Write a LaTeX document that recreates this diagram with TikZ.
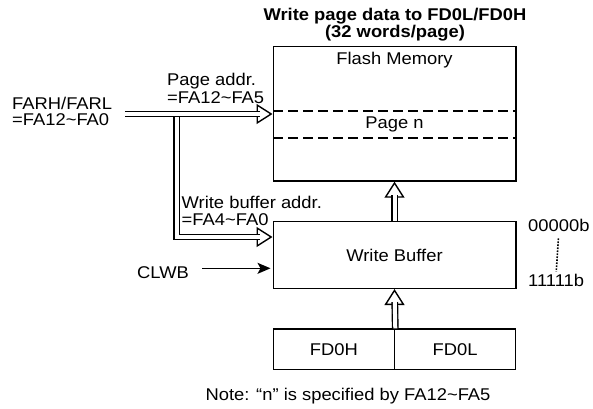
\documentclass[tikz,border=0pt]{standalone}
\usepackage{fontspec}
\setmainfont[FakeStretch=1.08]{Liberation Sans}
\usetikzlibrary{arrows.meta}

\begin{document}
\begin{tikzpicture}[x=1pt,y=1pt,
  txt/.style={inner sep=0pt,align=left,font=\fontsize{17}{17.5}\selectfont},
  box/.style={txt,align=center,draw,line width=1.5pt,minimum width=242.5pt},
  cut/.style={line width=1.5pt,dash pattern=on 10pt off 5pt},
  bus/.style={double,line width=1.4pt,double distance=4pt,shorten >=13pt},
  bushead/.style={line width=1.4pt,-{Triangle[open,length=16pt,width=20pt,fill=white]}}]
\useasboundingbox (0,0) rectangle (593,-408);
\node[txt,align=center,font=\bfseries\fontsize{17}{17.5}\selectfont] (title) at (395,-24.5) {Write page data to FD0L/FD0H\\(32 words/page)};
\node[box,minimum height=134.3pt] (flash) at (394.5,-113.8) {};
\node[txt] (flashname) at (394.5,-60) {Flash Memory};
\node[txt,minimum width=242.5pt,minimum height=26.7pt] (page) at (394.5,-124.3) {Page n};
\draw[cut] (page.north west) -- (page.north east);
\draw[cut] (page.south west) -- (page.south east);
\node[box,minimum height=66.6pt] (wbuf) at (394.5,-255) {Write Buffer};
\node[box,minimum width=121.25pt,minimum height=40.3pt] (fdh) at (333.9,-349.2) {FD0H};
\node[box,minimum width=121.25pt,minimum height=40.3pt] (fdl) at (455.1,-349.2) {FD0L};
\node[txt] (note) at (348,-396) {Note: “n” is specified by FA12\textasciitilde FA5};
% address inputs
\node[txt,anchor=north west,font=\fontsize{17}{16}\selectfont] (far) at (12,-96.7) {FARH/FARL\\=FA12\textasciitilde FA0};
\node[txt,anchor=north west] (pageaddr) at (167,-73.3) {Page addr.\\=FA12\textasciitilde FA5};
\node[txt,anchor=north west] (bufaddr) at (181.5,-195.5) {Write buffer addr.\\=FA4\textasciitilde FA0};
\coordinate (busin) at (125,-114);
\coordinate (fork) at (176.5,-114);
\coordinate (pagein) at (flash.west |- busin);
\coordinate (bufin) at ([yshift=18pt]wbuf.west);
\draw[bushead] ([xshift=-16pt]bufin) -- (bufin);
\draw[bus] (fork) |- (bufin);
\draw[bushead] ([xshift=-16pt]pagein) -- (pagein);
\draw[bus] (busin) -- (pagein);
% data path
\draw[bushead] ([yshift=-16pt]flash.south) -- (flash.south);
\draw[bus] (wbuf.north) -- (flash.south);
\draw[bushead] ([yshift=-16pt]wbuf.south) -- (wbuf.south);
\draw[bus] (fdh.north east) -- (wbuf.south);
% clear
\node[txt] (clwb) at (163,-272.5) {CLWB};
\draw[line width=1.4pt,shorten >=2pt,-{Stealth[length=13pt,width=11pt,inset=3pt]}] ([xshift=13pt,yshift=4.2pt]clwb.east) -- ([yshift=-13.3pt]wbuf.west);
% buffer range
\node[txt,anchor=west] (first) at (528,-225) {00000b};
\node[txt,anchor=west] (last) at (528,-280) {11111b};
\draw[line width=1.6pt,dash pattern=on 1.6pt off 1.4pt,shorten <=7pt,shorten >=2pt] (first.south) -- (last.north);
\end{tikzpicture}
\end{document}
